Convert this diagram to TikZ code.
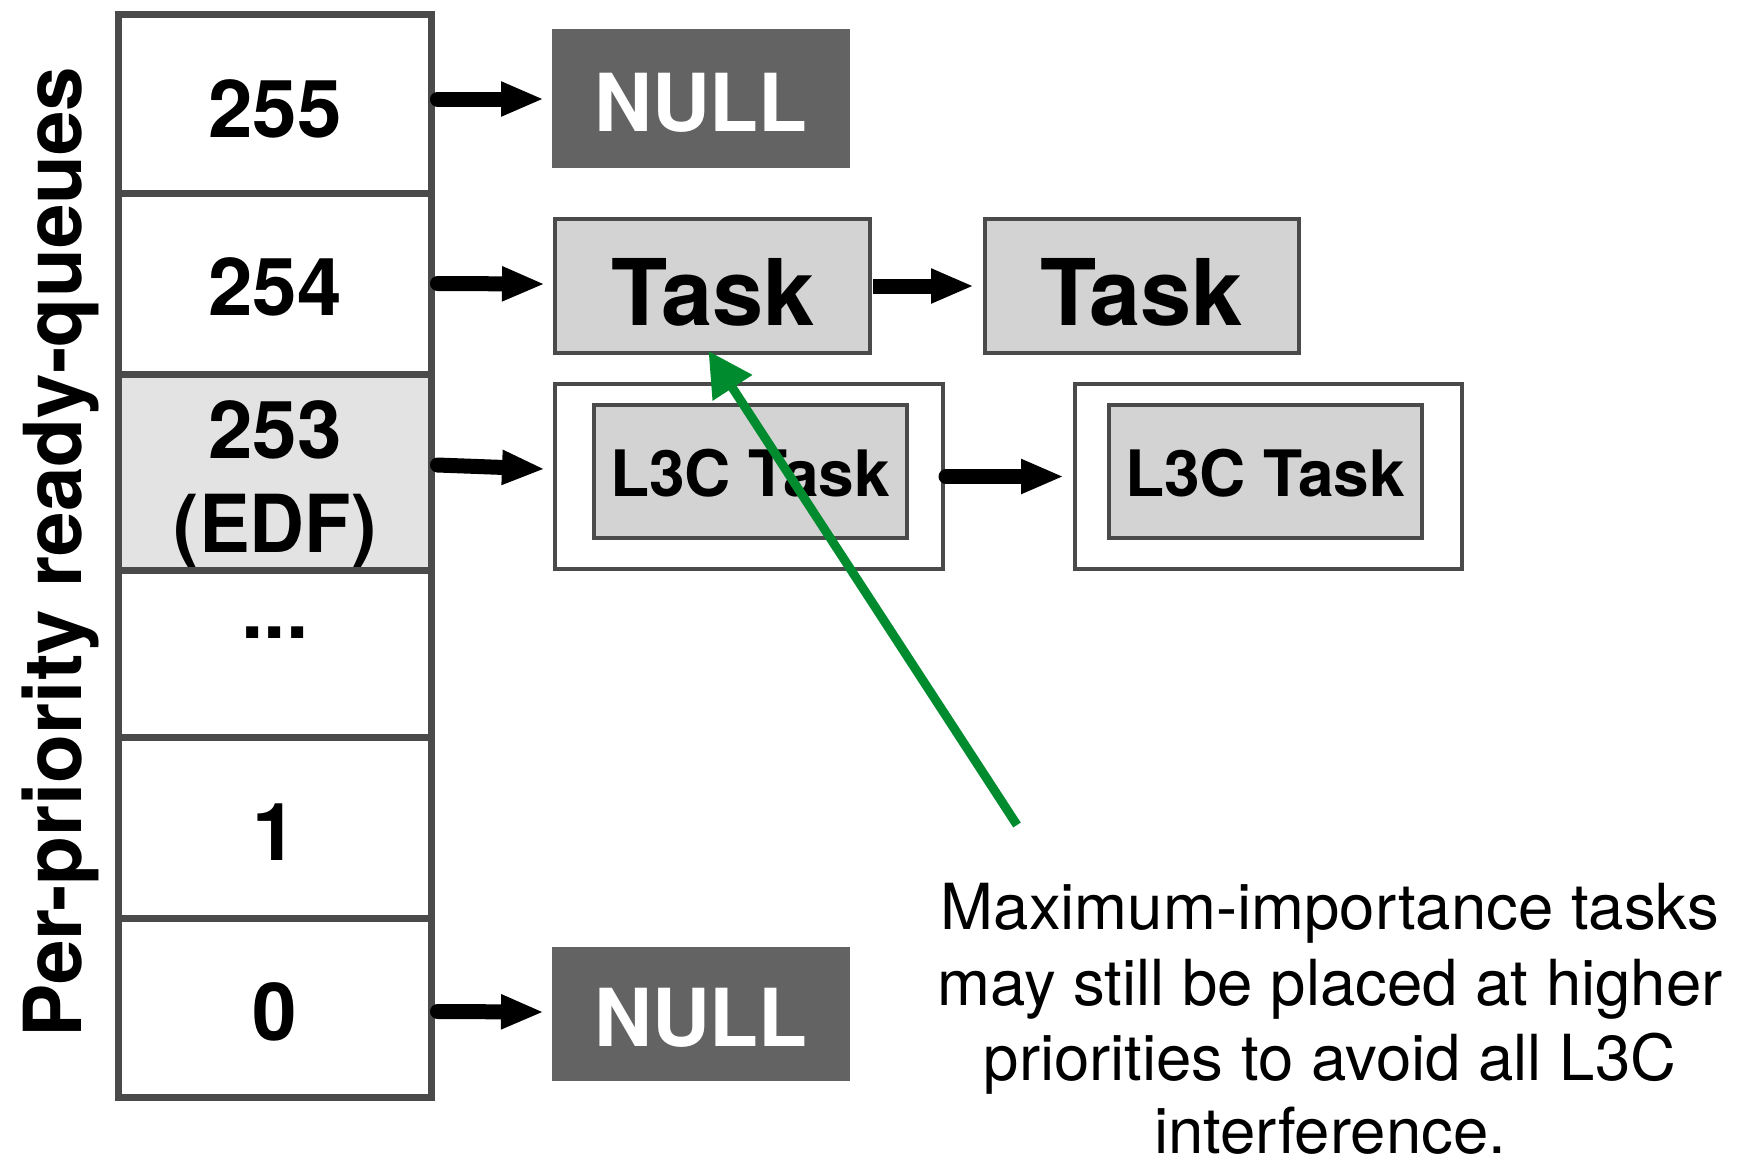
\documentclass[tikz,border=0pt]{standalone}
\usepackage{fontspec}
\setmainfont{TeX Gyre Heros}
\usetikzlibrary{arrows.meta,calc}
\definecolor{edge}{HTML}{4A4A4A}
\definecolor{taskfill}{HTML}{D3D3D3}
\definecolor{edffill}{HTML}{E3E3E3}
\definecolor{nullfill}{HTML}{636363}
\definecolor{note}{HTML}{008C2E}

\begin{document}
\begin{tikzpicture}[x=0.5pt,y=-0.5pt,
  cell/.style={rectangle, draw=edge, line width=3.5pt, fill=white,
    inner sep=0pt, outer sep=0pt, minimum width=156.5pt},
  taskbox/.style={rectangle, draw=edge, line width=2pt, fill=taskfill,
    inner sep=0pt, outer sep=0pt},
  wrapbox/.style={rectangle, draw=edge, line width=2pt, fill=white,
    inner sep=0pt, outer sep=0pt, minimum width=194pt, minimum height=92.5pt},
  nullbox/.style={rectangle, fill=nullfill, inner sep=0pt, outer sep=0pt,
    minimum width=149pt},
  num/.style={font=\bfseries\fontsize{40}{48}\selectfont, inner sep=0pt, anchor=base},
  nulltxt/.style={num, text=white},
  tasktxt/.style={font=\bfseries\fontsize{46}{55}\selectfont, inner sep=0pt, anchor=base},
  l3ctxt/.style={font=\bfseries\fontsize{32}{38}\selectfont, inner sep=0pt, anchor=base},
  notetxt/.style={font=\fontsize{31.75}{38}\selectfont, inner sep=0pt, anchor=base},
  link/.style={line width=7.5pt, -{Triangle[length=21.5pt,width=16pt]}},
  blk/.style={link, line cap=round},
  grn/.style={draw=note, line width=4.5pt, -{Triangle[length=22pt,width=22.5pt]}}
]
\useasboundingbox (0,0) rectangle (1760,1164);

% priority table
\node[cell, minimum height=89.5pt] (c255) at (274.5,103.5) {};
\node[cell, minimum height=90.5pt] (c254) at (274.5,283.5) {};
\node[cell, minimum height=98pt, fill=edffill] (c253) at (274.5,472) {};
\node[cell, minimum height=83.5pt] (cdots) at (274.5,653.5) {};
\node[cell, minimum height=90.5pt] (c1) at (274.5,827.5) {};
\node[cell, minimum height=89.5pt] (c0) at (274.5,1007.5) {};

\node[num] (t255) at (275,137) {255};
\node[num] (t254) at (275,315) {254};
\node[num] (t253) at (275,458) {253};
\node[num, xscale=0.95] (tedf) at (275,552) {(EDF)};
\node[num] (tdots) at (275,638) {...};
\node[num] (t1) at (275,860) {1};
\node[num] (t0) at (275,1040) {0};

% redraw the border below (EDF) so the parentheses sit under it
\draw[edge, line width=3.5pt] (c253.south west) -- (c253.south east);

% axis label
\node[num, rotate=90] (axis) at (81,552) {Per-priority ready-queues};

% queue entries
\node[nullbox, minimum height=69.5pt] (null1) at (701,98.5) {};
\node[nulltxt] (null1t) at (701,131) {NULL};

\node[taskbox, minimum width=157.5pt, minimum height=67pt] (task1) at (712.5,286) {};
\node[tasktxt] (task1t) at (713,325) {Task};
\node[taskbox, minimum width=157pt, minimum height=67pt] (task2) at (1142,286) {};
\node[tasktxt] (task2t) at (1141.5,325) {Task};

\node[wrapbox] (wrap1) at (749,476.5) {};
\node[taskbox, minimum width=156.5pt, minimum height=66.5pt] (l3c1) at (750.5,471.5) {};
\node[l3ctxt] (l3c1t) at (750,496) {L3C Task};
\node[wrapbox, minimum width=193.5pt] (wrap2) at (1268.5,476.5) {};
\node[taskbox, minimum width=156.5pt, minimum height=66.5pt] (l3c2) at (1265.5,471.5) {};
\node[l3ctxt] (l3c2t) at (1265,496) {L3C Task};

\node[nullbox, minimum height=67pt] (null0) at (701,1014) {};
\node[nulltxt] (null0t) at (701,1046) {NULL};

% queue links
\draw[blk] ($(c255.east)+(6.5,-4.5)$) -- ($(null1.west)+(-8,0.5)$);
\draw[blk] ($(c254.east)+(6.5,0)$) -- ($(task1.west)+(-10,-2)$);
\draw[blk] ($(c253.east)+(6.5,-7)$) -- ($(wrap1.west)+(-10,-7.5)$);
\draw[link] ($(task1.east)+(3,0)$) -- ($(task2.west)+(-11,0)$);
\draw[blk] ($(wrap1.east)+(3,0)$) -- ($(wrap2.west)+(-11,0)$);
\draw[blk] ($(c0.east)+(6.5,4)$) -- ($(null0.west)+(-8,-2)$);

% annotation
\node[notetxt] (n1) at (1330,929) {Maximum-importance tasks};
\node[notetxt] (n2) at (1330,1005) {may still be placed at higher};
\node[notetxt] (n3) at (1330,1080) {priorities to avoid all L3C};
\node[notetxt] (n4) at (1330,1153) {interference.};

\coordinate (gtail) at (1017,825);
\draw[grn] (gtail) -- ($(task1.south)+(-4,-2)$);
\end{tikzpicture}
\end{document}
